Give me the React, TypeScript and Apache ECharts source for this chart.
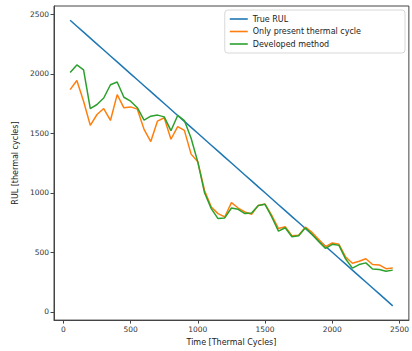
import React, { useEffect, useRef } from "react";
import * as echarts from "echarts";

const timeCycles = [
  50, 100, 150, 200, 250, 300, 350, 400, 450, 500, 550, 600, 650, 700, 750, 800, 850, 900, 950, 1000,
  1050, 1100, 1150, 1200, 1250, 1300, 1350, 1400, 1450, 1500, 1550, 1600, 1650, 1700, 1750, 1800, 1850,
  1900, 1950, 2000, 2050, 2100, 2150, 2200, 2250, 2300, 2350, 2400, 2450,
];

const trueRUL = [
  2450, 2400, 2350, 2300, 2250, 2200, 2150, 2100, 2050, 2000, 1950, 1900, 1850, 1800, 1750, 1700, 1650,
  1600, 1550, 1500, 1450, 1400, 1350, 1300, 1250, 1200, 1150, 1100, 1050, 1000, 950, 900, 850, 800, 750,
  700, 650, 600, 550, 500, 450, 400, 350, 300, 250, 200, 150, 100, 50,
];

const onlyPresent = [
  1867, 1944, 1770, 1567, 1658, 1708, 1608, 1825, 1714, 1722, 1703, 1533, 1431, 1603, 1631, 1450, 1556,
  1525, 1325, 1260, 1020, 881, 825, 797, 917, 872, 839, 819, 894, 905, 811, 700, 714, 639, 644, 711, 667,
  608, 547, 578, 567, 460, 408, 425, 446, 397, 394, 362, 367,
];

const developed = [
  2011, 2075, 2033, 1708, 1742, 1797, 1908, 1931, 1803, 1770, 1715, 1611, 1644, 1653, 1638, 1522, 1650,
  1607, 1458, 1258, 1000, 867, 783, 789, 872, 861, 825, 831, 894, 903, 797, 678, 706, 631, 639, 706, 650,
  589, 533, 567, 558, 443, 367, 397, 411, 360, 355, 341, 350,
];

const xTicks = [0, 500, 1000, 1500, 2000, 2500];
const yTicks = [0, 500, 1000, 1500, 2000, 2500];

const seriesNames = ["True RUL", "Only present thermal cycle", "Developed method"];
const seriesColors = ["#1f77b4", "#ff7f0e", "#2ca02c"];

const FONT = "DejaVu Sans";

export default function App() {
  const ref = useRef<HTMLDivElement>(null);

  useEffect(() => {
    if (!ref.current) return;
    const chart = echarts.init(ref.current, undefined, { renderer: "svg" });
    const seriesData = [trueRUL, onlyPresent, developed];
    chart.setOption({
      animation: false,
      backgroundColor: "#ffffff",
      textStyle: { fontFamily: FONT },
      grid: {
        left: 54,
        top: 6,
        width: 355,
        height: 316,
        show: true,
        borderColor: "#444",
        borderWidth: 1,
        backgroundColor: "transparent",
      },
      legend: {
        data: seriesNames,
        orient: "vertical",
        right: 7,
        top: 10,
        icon: "rect",
        itemWidth: 18,
        itemHeight: 1.6,
        itemGap: 4.5,
        padding: [5, 44, 5, 5],
        backgroundColor: "#ffffff",
        borderColor: "#d8d8d8",
        borderWidth: 1,
        borderRadius: 3,
        textStyle: { fontFamily: FONT, fontSize: 8, color: "#222", padding: [0, 0, 0, 0] },
      },
      xAxis: {
        type: "value",
        min: -70,
        max: 2570,
        name: "Time [Thermal Cycles]",
        nameLocation: "middle",
        nameGap: 17,
        nameTextStyle: { fontFamily: FONT, fontSize: 8, color: "#222" },
        axisLine: { show: true, onZero: false, lineStyle: { color: "#444", width: 1 } },
        axisTick: { show: true, length: 3.5, customValues: xTicks, lineStyle: { color: "#444" } },
        axisLabel: {
          customValues: xTicks,
          formatter: (v: number) => String(v),
          fontFamily: FONT,
          fontSize: 7.5,
          color: "#333",
          margin: 5,
        },
        splitLine: { show: false },
      },
      yAxis: {
        type: "value",
        min: -70,
        max: 2570,
        name: "RUL [thermal cycles]",
        nameLocation: "middle",
        nameGap: 32,
        nameRotate: 90,
        nameTextStyle: { fontFamily: FONT, fontSize: 8, color: "#222" },
        axisLine: { show: true, onZero: false, lineStyle: { color: "#444", width: 1 } },
        axisTick: { show: true, length: 3.5, customValues: yTicks, lineStyle: { color: "#444" } },
        axisLabel: {
          customValues: yTicks,
          formatter: (v: number) => String(v),
          fontFamily: FONT,
          fontSize: 7.5,
          color: "#333",
          margin: 5,
        },
        splitLine: { show: false },
      },
      series: seriesNames.map((name, i) => ({
        name,
        type: "line",
        data: timeCycles.map((t, j) => [t, seriesData[i][j]]),
        showSymbol: false,
        symbol: "none",
        lineStyle: { color: seriesColors[i], width: 1.5 },
        itemStyle: { color: seriesColors[i] },
        z: 2 + i,
      })),
    });
    return () => chart.dispose();
  }, []);

  return (
    <div
      ref={ref}
      style={{ position: "fixed", left: 0, top: 0, width: 412, height: 351, background: "#fff" }}
    />
  );
}
